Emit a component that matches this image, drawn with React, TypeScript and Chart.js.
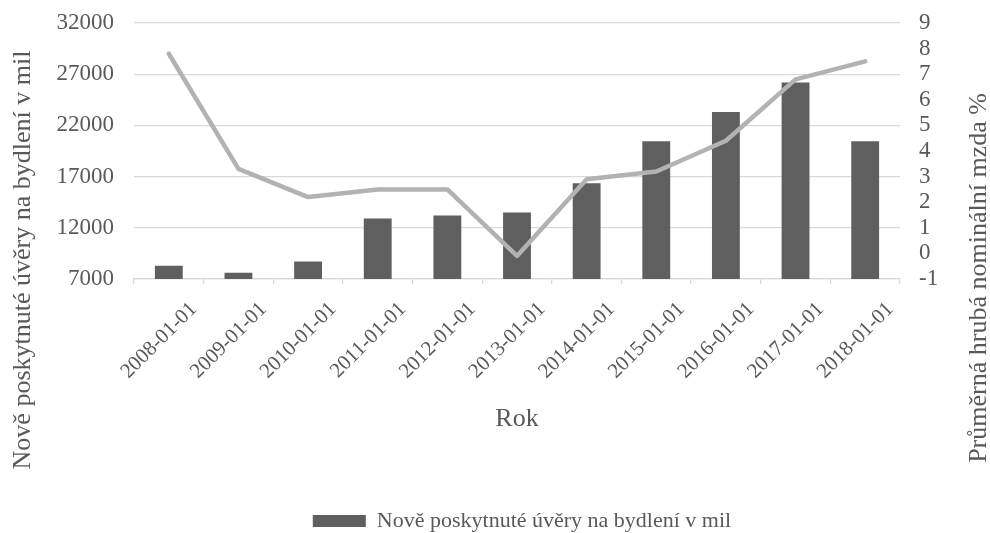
import React, { useEffect, useRef } from "react";
import { Chart, registerables } from "chart.js";

Chart.register(...registerables);

const years = [
  "2008-01-01", "2009-01-01", "2010-01-01", "2011-01-01", "2012-01-01", "2013-01-01",
  "2014-01-01", "2015-01-01", "2016-01-01", "2017-01-01", "2018-01-01",
];

// New housing loans (mil. CZK)
const housingLoans = [8300, 7600, 8700, 12900, 13200, 13500, 16350, 20450, 23300, 26200, 20450];

// Average gross nominal wage growth (%)
const wageGrowth = [7.8, 3.3, 2.2, 2.5, 2.5, -0.1, 2.9, 3.2, 4.4, 6.8, 7.5];

const loansLabel = "Nově poskytnuté úvěry na bydlení v mil";
const wageLabel = "Průměrná hrubá nominální mzda %";
const xTitle = "Rok";

const FONT = '"Liberation Serif", "Times New Roman", serif';
const TEXT = "#595959";
const GRID = "#d9d9d9";

// Side axis titles, both reading bottom-to-top, centred on the canvas height
const sideTitles = {
  id: "sideTitles",
  afterDraw(chart: Chart) {
    const ctx = chart.ctx;
    const draw = (text: string, x: number, y: number) => {
      ctx.save();
      ctx.font = `26px ${FONT}`;
      ctx.fillStyle = TEXT;
      ctx.textAlign = "center";
      ctx.textBaseline = "middle";
      ctx.translate(x, y);
      ctx.rotate(-Math.PI / 2);
      ctx.fillText(text, 0, 0);
      ctx.restore();
    };
    draw(loansLabel, 23, 260);
    draw(wageLabel, 979, 278);
  },
};

// Vertical axes: fixed width, no extra top/bottom padding for half-height labels
const fitVertical = (width: number) => (scale: any) => {
  scale.width = width;
  scale.paddingTop = 0;
  scale.paddingBottom = 0;
};

export default function App() {
  const canvasRef = useRef<HTMLCanvasElement | null>(null);

  useEffect(() => {
    document.body.style.margin = "0";
    const canvas = canvasRef.current;
    if (!canvas) return;

    const chart = new Chart(canvas, {
      type: "bar",
      data: {
        labels: years,
        datasets: [
          {
            type: "bar",
            label: loansLabel,
            data: housingLoans,
            backgroundColor: "#5f5f5f",
            borderWidth: 0,
            barPercentage: 0.4,
            categoryPercentage: 1,
            yAxisID: "y",
            order: 1,
          },
          {
            type: "line",
            label: wageLabel,
            data: wageGrowth,
            borderColor: "#b2b2b2",
            backgroundColor: "#b2b2b2",
            borderWidth: 4.5,
            pointRadius: 0,
            tension: 0,
            borderJoinStyle: "round",
            borderCapStyle: "round",
            yAxisID: "y1",
            order: 0,
          },
        ],
      },
      plugins: [sideTitles],
      options: {
        responsive: false,
        animation: false,
        layout: { padding: { left: 54, top: 23, right: 0, bottom: -9 } },
        plugins: {
          tooltip: { enabled: false },
          legend: {
            position: "bottom",
            labels: {
              filter: (item) => item.datasetIndex === 0,
              boxWidth: 53,
              boxHeight: 12,
              padding: 2,
              color: TEXT,
              font: { family: FONT, size: 22 },
            },
          },
        },
        scales: {
          x: {
            offset: true,
            grid: {
              offset: true,
              drawOnChartArea: false,
              drawTicks: true,
              tickLength: 5,
              color: GRID,
              lineWidth: 1.3,
            },
            border: { color: GRID, width: 1.3 },
            ticks: {
              minRotation: 45,
              maxRotation: 45,
              autoSkip: false,
              padding: 13,
              labelOffset: 25,
              color: TEXT,
              font: { family: FONT, size: 21 },
            },
            title: {
              display: true,
              text: xTitle,
              color: TEXT,
              font: { family: FONT, size: 26 },
              padding: { top: 0, bottom: 73 },
            },
            afterFit: (scale) => {
              scale.height = 229;
            },
          },
          y: {
            position: "left",
            min: 7000,
            max: 32000,
            ticks: {
              stepSize: 5000,
              autoSkip: false,
              padding: 20,
              color: TEXT,
              font: { family: FONT, size: 23 },
              callback: (value) => String(value),
            },
            grid: { color: GRID, lineWidth: 1.3, drawTicks: false },
            border: { display: false },
            afterFit: fitVertical(80),
          },
          y1: {
            position: "right",
            min: -1,
            max: 9,
            ticks: {
              stepSize: 1,
              autoSkip: false,
              padding: 19,
              color: TEXT,
              font: { family: FONT, size: 23 },
              callback: (value) => String(value),
            },
            grid: { drawOnChartArea: false, drawTicks: false },
            border: { display: false },
            afterFit: fitVertical(90),
          },
        },
      },
    });

    return () => chart.destroy();
  }, []);

  return (
    <div style={{ position: "absolute", left: 0, top: 0, width: 990, height: 533 }}>
      <canvas ref={canvasRef} width={990} height={533} style={{ display: "block" }} />
    </div>
  );
}
